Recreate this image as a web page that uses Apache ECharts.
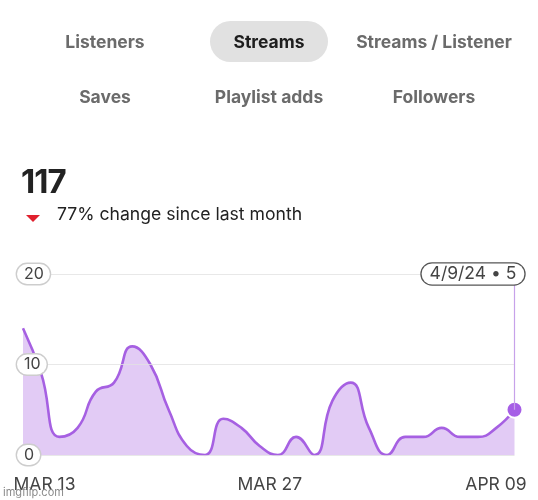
<!DOCTYPE html>
<html>
<head>
<meta charset="utf-8">
<script src="https://cdn.jsdelivr.net/npm/echarts@6/dist/echarts.min.js"></script>
<style>
  html, body { margin: 0; padding: 0; background: #fff; }
  #wrap { position: relative; width: 538px; height: 500px; overflow: hidden; font-family: Inter, "Noto Sans", sans-serif; }
  #chart { position: absolute; left: 0; top: 0; width: 538px; height: 500px; }
  .hdr { position: absolute; pointer-events: none; white-space: nowrap; }
  .tab { transform: translate(-50%, -50%); font-weight: 700; font-size: 17.5px; color: #6b6b6b; line-height: 20px; }
  .tab.active { color: #1e1e1e; }
  #pill { position: absolute; left: 210px; top: 21px; width: 118px; height: 41px; border-radius: 21px; background: #e1e1e1; }
  #total { left: 21px; top: 163px; font-size: 33px; font-weight: 700; color: #222; letter-spacing: -1px; line-height: 36px; }
  #change { left: 57px; top: 203px; font-size: 17.6px; color: #222; line-height: 22px; }
  #tri { position: absolute; left: 26px; top: 215px; width: 0; height: 0; border-left: 7.5px solid transparent; border-right: 7.5px solid transparent; border-top: 7px solid #e0202e; }
  #wm { left: 3px; top: 486px; font-size: 11px; color: #8a8a8a; line-height: 13px; }
</style>
</head>
<body>
<div id="wrap">
  <div id="chart"></div>
  <div id="pill"></div>
  <div id="tabs"></div>
  <div class="hdr" id="total"></div>
  <div id="tri"></div>
  <div class="hdr" id="change"></div>
  <div class="hdr" id="wm">imgflip.com</div>
</div>
<script>
// ---- data ----
const tabNames = ['Listeners', 'Streams', 'Streams / Listener', 'Saves', 'Playlist adds', 'Followers'];
const activeTab = 'Streams';
const totalStreams = '117';
const changeText = '77% change since last month';
const days = ['3/13/24','3/14/24','3/15/24','3/16/24','3/17/24','3/18/24','3/19/24','3/20/24','3/21/24','3/22/24',
              '3/23/24','3/24/24','3/25/24','3/26/24','3/27/24','3/28/24','3/29/24','3/30/24','3/31/24','4/1/24',
              '4/2/24','4/3/24','4/4/24','4/5/24','4/6/24','4/7/24','4/8/24','4/9/24'];
const streams = [14, 9, 2, 3, 7, 8, 12, 10, 5, 1, 0, 4, 3, 1, 0, 2, 0, 6, 8, 3, 0, 2, 2, 3, 2, 2, 3, 5];
const xTickIndex = [0, 14, 27];
const xTickLabels = ['MAR 13', 'MAR 27', 'APR 09'];
const yTicks = [0, 10, 20];

// ---- header (HTML) ----
const tabPos = [[105, 42], [269, 42], [434, 42], [105, 97], [269, 97], [434, 97]];
const tabsEl = document.getElementById('tabs');
tabNames.forEach((n, i) => {
  const d = document.createElement('div');
  d.className = 'hdr tab' + (n === activeTab ? ' active' : '');
  d.style.left = tabPos[i][0] + 'px';
  d.style.top = tabPos[i][1] + 'px';
  d.textContent = n;
  tabsEl.appendChild(d);
});
document.getElementById('total').textContent = totalStreams;
document.getElementById('change').textContent = changeText;

// ---- chart ----
const LINE = '#a660e2';
const last = streams.length - 1;
const seriesData = streams.map((v, i) => i === last
  ? { value: v, symbol: 'circle', symbolSize: 16, itemStyle: { color: '#a65ee6', borderColor: '#fff', borderWidth: 2 } }
  : v);

const chart = echarts.init(document.getElementById('chart'), null, { renderer: 'canvas' });
chart.setOption({
  animation: false,
  textStyle: { fontFamily: 'Inter, "Noto Sans", sans-serif' },
  grid: { left: 23, right: 23.5, top: 274, bottom: 45 },
  xAxis: {
    type: 'category',
    data: days,
    boundaryGap: false,
    axisLine: { show: false },
    axisTick: { show: false },
    splitLine: { show: false },
    axisLabel: {
      interval: 0,
      margin: 21,
      color: '#444',
      fontSize: 17.5,
      formatter: (val, idx) => {
        const k = xTickIndex.indexOf(idx);
        if (k < 0) return '';
        return '{' + ['l', 'm', 'r'][k] + '|' + xTickLabels[k] + '}';
      },
      rich: {
        l: { fontSize: 17.5, color: '#444', padding: [0, 0, 0, 43] },
        m: { fontSize: 17.5, color: '#444', padding: [0, 16, 0, 0] },
        r: { fontSize: 17.5, color: '#444', padding: [0, 37, 0, 0] }
      }
    }
  },
  yAxis: {
    type: 'value',
    z: 4,
    min: yTicks[0],
    max: yTicks[yTicks.length - 1],
    interval: yTicks[1] - yTicks[0],
    axisLine: { show: false },
    axisTick: { show: false },
    splitLine: { lineStyle: { color: '#e2e2e2', width: 1, opacity: 0.8 } },
    axisLabel: {
      inside: false,
      align: 'left',
      margin: 6,
      color: '#444',
      fontSize: 16,
      backgroundColor: '#fff',
      borderColor: '#cdcdcd',
      borderWidth: 1.4,
      borderRadius: 10,
      padding: [3, 6, 1, 7]
    }
  },
  series: [{
    type: 'line',
    data: seriesData,
    smooth: 0.5,
    symbol: 'none',
    showSymbol: true,
    lineStyle: { color: LINE, width: 2.6 },
    itemStyle: { color: LINE },
    areaStyle: { color: LINE, opacity: 0.33 },
    z: 3,
    markLine: {
      silent: true,
      symbol: ['none', 'none'],
      label: { show: false },
      lineStyle: { color: '#c7a2ea', type: 'solid', width: 1.2 },
      data: [[{ coord: [last, streams[last]] }, { coord: [last, yTicks[yTicks.length - 1]] }]]
    },
    markPoint: {
      silent: true,
      z: 8,
      symbol: 'circle',
      symbolSize: 0,
      data: [{ coord: [last, yTicks[yTicks.length - 1]] }],
      label: {
        show: true,
        position: 'inside',
        offset: [-41.5, 0],
        formatter: () => days[last] + ' \u2022 ' + streams[last],
        color: '#444',
        fontSize: 17.5,
        backgroundColor: '#fff',
        borderColor: '#555',
        borderWidth: 1.3,
        borderRadius: 11,
        padding: [2, 8, 1, 8]
      }
    }
  }]
});
</script>
</body>
</html>
